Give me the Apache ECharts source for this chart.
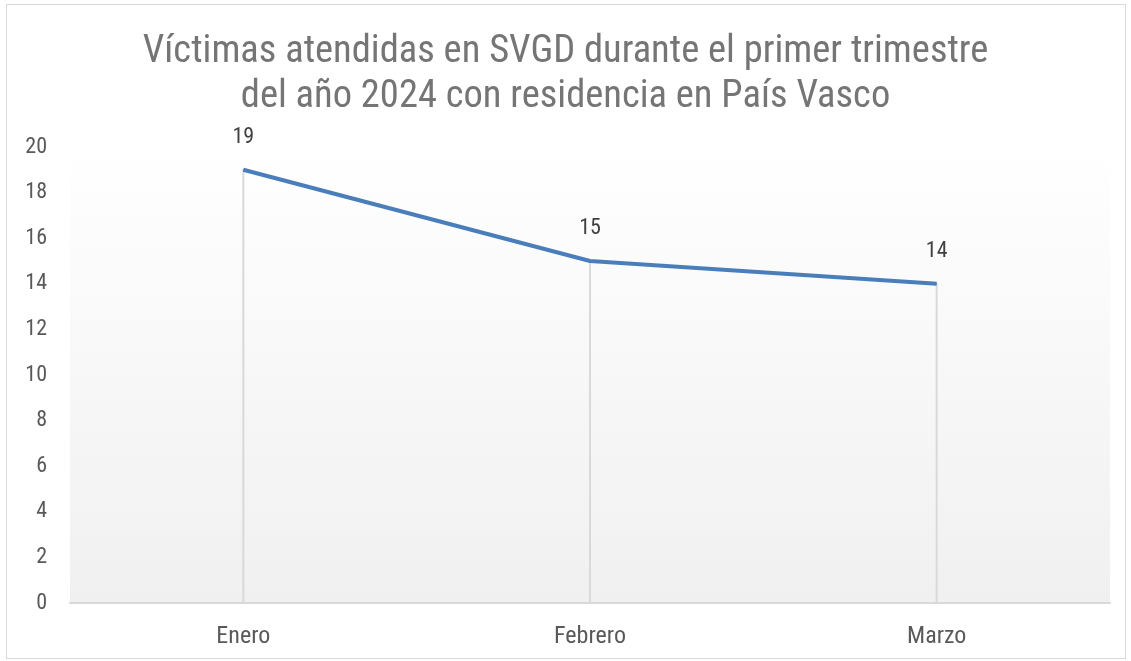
<!DOCTYPE html>
<html><head><meta charset="utf-8">
<script src="https://cdn.jsdelivr.net/npm/echarts@6/dist/echarts.min.js"></script>
<style>
html,body{margin:0;padding:0;background:#fff;}
#frame{position:absolute;left:6px;top:4px;width:1120px;height:655px;border:1px solid #d9d9d9;box-sizing:border-box;}
#c{position:absolute;left:0;top:0;width:1131px;height:661px;}
</style></head>
<body>
<div id="frame"></div>
<div id="c"></div>
<script>
const titleLines = ['Víctimas atendidas en SVGD durante el primer trimestre', 'del año 2024 con residencia en País Vasco'];
const categories = ['Enero', 'Febrero', 'Marzo'];
const values = [19, 15, 14];
const yMin = 0, yMax = 20, yStep = 2;
const FONT = '"Liberation Sans Narrow", "Roboto Condensed", Roboto, sans-serif';

const chart = echarts.init(document.getElementById('c'));
chart.setOption({
  animation: false,
  title: {
    text: titleLines.join('\n'),
    left: 'center', top: 25,
    textStyle: {fontFamily: FONT, fontSize: 38.5, fontWeight: 'normal', color: '#757575', lineHeight: 45}
  },
  grid: {
    left: 70, right: 21, top: 147, bottom: 58,
    show: true, borderWidth: 0,
    backgroundColor: {type: 'linear', x: 0, y: 0, x2: 0, y2: 1,
      colorStops: [{offset: 0, color: '#ffffff'}, {offset: 1, color: '#f0f0f0'}]}
  },
  xAxis: {
    type: 'category', data: categories, boundaryGap: true,
    axisLine: {lineStyle: {color: '#d9d9d9', width: 2}},
    axisTick: {show: false},
    axisLabel: {fontFamily: FONT, fontSize: 24, color: '#595959', margin: 22}
  },
  yAxis: {
    type: 'value', min: yMin, max: yMax, interval: yStep,
    axisLine: {show: false}, axisTick: {show: false}, splitLine: {show: false},
    axisLabel: {fontFamily: FONT, fontSize: 22, color: '#595959', margin: 23}
  },
  series: [
    {type: 'bar', data: values, barWidth: 2, silent: true,
     itemStyle: {color: '#d9d9d9'}, barGap: '-100%'},
    {type: 'line', data: values, symbol: 'circle', symbolSize: 1, showSymbol: true,
     itemStyle: {color: '#4a7ebb'},
     lineStyle: {color: '#4a7ebb', width: 4},
     label: {show: true, position: 'top', distance: 21,
       fontFamily: FONT, fontSize: 22, color: '#404040'}}
  ]
});
</script>
</body></html>
